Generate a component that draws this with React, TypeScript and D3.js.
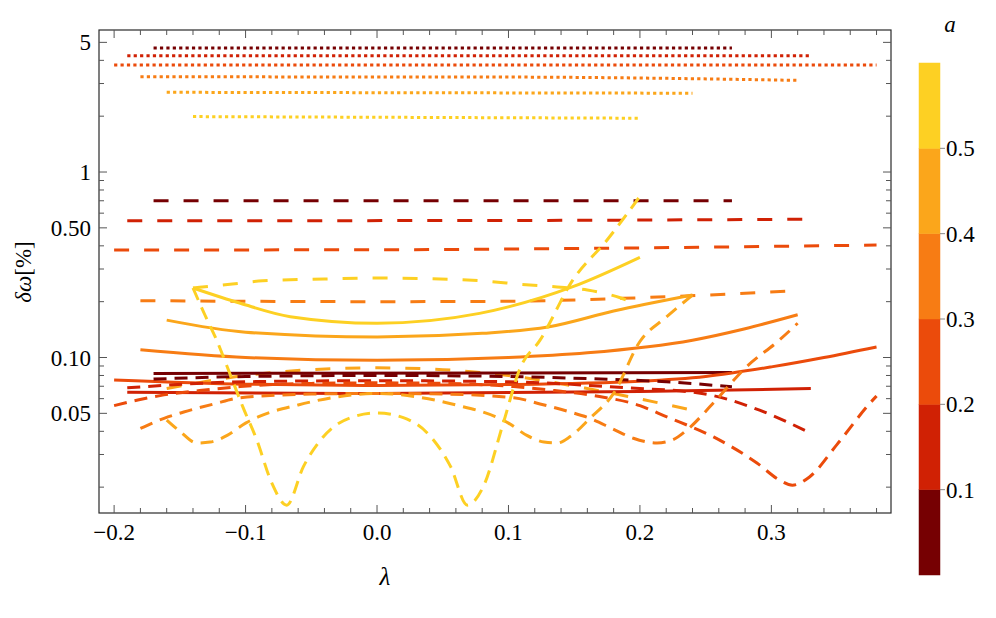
import React, { useEffect, useRef } from 'react';
import * as d3 from 'd3';

// colour groups, one per value of a (bands of the colour bar)
const aBands = [0, 0.1, 0.2, 0.3, 0.4, 0.5, 0.6];
const aColors = ['#760002', '#D02104', '#EB4B0B', '#F77C14', '#FBA61B', '#FDD023'];
const barTicks = [0.1, 0.2, 0.3, 0.4, 0.5];

const xTicks = [-0.2, -0.1, 0, 0.1, 0.2, 0.3];
const xTickLabels = ['\u22120.2', '\u22120.1', '0.0', '0.1', '0.2', '0.3'];
const yTicks = [0.05, 0.1, 0.5, 1, 5];
const yTickLabels = ['0.05', '0.10', '0.50', '1', '5'];

// dotted curves (top), index = colour group
const dottedCurves: [number, number][][] = [
  [[-0.17, 4.66], [0.27, 4.66]],
  [[-0.19, 4.24], [0.33, 4.24]],
  [[-0.2, 3.77], [0.38, 3.77]],
  [[-0.18, 3.26], [0.1, 3.25], [0.32, 3.12]],
  [[-0.16, 2.69], [0.24, 2.66]],
  [[-0.14, 1.99], [0.2, 1.95]],
];

// long-dashed curves
const dashedCurves: [number, number][][] = [
  [[-0.17, 0.7], [0.27, 0.7]],
  [[-0.19, 0.546], [0.1, 0.548], [0.33, 0.557]],
  [[-0.2, 0.38], [0, 0.381], [0.2, 0.39], [0.38, 0.404]],
  [[-0.18, 0.2025], [0, 0.2], [0.1, 0.201], [0.2, 0.21], [0.32, 0.229]],
  [[-0.16, 0.068], [-0.1, 0.08], [-0.05, 0.086], [0, 0.088], [0.05, 0.086], [0.1, 0.08], [0.16, 0.068], [0.24, 0.052]],
  [[-0.14, 0.237], [-0.11, 0.249], [-0.087, 0.259], [-0.04, 0.265], [0, 0.268], [0.04, 0.266], [0.083, 0.258],
   [0.11, 0.248], [0.137, 0.24], [0.16, 0.231], [0.185, 0.21], [0.2, 0.19]],
];

// solid curves
const solidCurves: [number, number][][] = [
  [[-0.17, 0.082], [0.27, 0.083]],
  [[-0.19, 0.065], [0, 0.064], [0.2, 0.0655], [0.33, 0.068]],
  [[-0.2, 0.0757], [-0.1, 0.0718], [0, 0.0707], [0.1, 0.0715], [0.2, 0.0745], [0.25, 0.079], [0.3, 0.089],
   [0.34, 0.1], [0.38, 0.114]],
  [[-0.18, 0.11], [-0.1, 0.1], [0, 0.0965], [0.1, 0.1], [0.16, 0.106], [0.24, 0.124], [0.28, 0.143], [0.32, 0.17]],
  [[-0.16, 0.159], [-0.1, 0.137], [0, 0.129], [0.08, 0.135], [0.13, 0.146], [0.18, 0.178], [0.24, 0.217]],
  [[-0.14, 0.237], [-0.104, 0.196], [-0.066, 0.166], [0, 0.153], [0.078, 0.173], [0.149, 0.241], [0.2, 0.347]],
];

// short-dashed curves with the dips
const dipCurves: [number, number][][] = [
  [[-0.17, 0.0765], [-0.1, 0.079], [0, 0.08], [0.1, 0.079], [0.17, 0.0765], [0.22, 0.074], [0.27, 0.0695]],
  [[-0.19, 0.0686], [-0.1, 0.074], [0, 0.075], [0.1, 0.074], [0.19, 0.0686], [0.246, 0.0642], [0.291, 0.052],
   [0.33, 0.039]],
  [[-0.2, 0.055], [-0.182, 0.059], [-0.165, 0.0623], [-0.135, 0.0663], [-0.104, 0.0697], [-0.05, 0.0725],
   [0, 0.073], [0.05, 0.0725], [0.104, 0.0697], [0.135, 0.0663], [0.165, 0.0623], [0.2, 0.055], [0.22, 0.048],
   [0.256, 0.0373], [0.289, 0.027], [0.306, 0.0219], [0.316, 0.0205], [0.329, 0.0227], [0.35, 0.034],
   [0.376, 0.0578], [0.38, 0.062]],
  [[-0.18, 0.0415], [-0.162, 0.047], [-0.147, 0.0508], [-0.124, 0.0562], [-0.104, 0.0607], [-0.05, 0.0635],
   [0, 0.064], [0.05, 0.0635], [0.104, 0.0607], [0.124, 0.0562], [0.147, 0.0508], [0.162, 0.047], [0.18, 0.041],
   [0.195, 0.0367], [0.213, 0.0346], [0.225, 0.036], [0.236, 0.0408], [0.256, 0.057], [0.281, 0.089],
   [0.306, 0.124], [0.32, 0.153]],
  [[-0.16, 0.046], [-0.15, 0.04], [-0.137, 0.0346], [-0.127, 0.035], [-0.114, 0.038], [-0.1, 0.0443],
   [-0.09, 0.048], [-0.06, 0.0555], [-0.03, 0.0614], [0, 0.064], [0.03, 0.0614], [0.06, 0.0555], [0.09, 0.048],
   [0.1, 0.0443], [0.114, 0.038], [0.127, 0.035], [0.137, 0.0346], [0.147, 0.0375], [0.162, 0.047],
   [0.18, 0.064], [0.2, 0.122], [0.22, 0.165], [0.24, 0.217]],
  [[-0.14, 0.237], [-0.131, 0.17], [-0.122, 0.124], [-0.112, 0.082], [-0.102, 0.054], [-0.0915, 0.036],
   [-0.08, 0.021], [-0.0687, 0.016], [-0.056, 0.0258], [-0.041, 0.0373], [-0.02, 0.0474], [0, 0.0502],
   [0.02, 0.0474], [0.041, 0.0373], [0.056, 0.0258], [0.0687, 0.016], [0.0808, 0.0201], [0.096, 0.0442],
   [0.1087, 0.087], [0.124, 0.124], [0.149, 0.262], [0.175, 0.43], [0.2, 0.74]],
];

const serif = "'Liberation Serif', 'Times New Roman', 'DejaVu Serif', serif";

function App() {
  const svgRef = useRef<SVGSVGElement>(null);

  useEffect(() => {
    const svg = d3.select(svgRef.current);
    svg.selectAll('*').remove();

    const left = 99, right = 891, top = 30, bottom = 513;

    const x = d3.scaleLinear().domain([-0.2115, 0.391]).range([left, right]);
    const y = d3.scaleLog().domain([0.01451, 5.83]).range([bottom, top]);

    const g = svg.append('g').attr('font-family', serif);
    const clip = svg.append('clipPath').attr('id', 'plot-clip');
    clip.append('rect').attr('x', left).attr('y', top).attr('width', right - left).attr('height', bottom - top);

    const line = d3.line<[number, number]>()
      .x(d => x(d[0]))
      .y(d => y(d[1]))
      .curve(d3.curveMonotoneX);

    const curves = g.append('g').attr('clip-path', 'url(#plot-clip)');

    const drawSet = (set: [number, number][][], dash: string | null, cls: string) => {
      curves.selectAll(`.${cls}`)
        .data(set)
        .join('path')
        .attr('class', cls)
        .attr('d', d => line(d))
        .attr('fill', 'none')
        .attr('stroke', (d, i) => aColors[i])
        .attr('stroke-width', 3)
        .attr('stroke-dasharray', dash)
        .attr('stroke-linecap', 'butt');
    };

    drawSet(dottedCurves, '3.2 3.2', 'dotted');
    drawSet(dashedCurves, '15 15', 'dashed');
    drawSet(solidCurves, null, 'solid');
    drawSet(dipCurves, '13 8', 'dip');

    // frame
    g.append('rect')
      .attr('x', left).attr('y', top)
      .attr('width', right - left).attr('height', bottom - top)
      .attr('fill', 'none').attr('stroke', '#2a2a2a').attr('stroke-width', 1.2);

    const tickColor = '#555';
    // x ticks (bottom and top)
    const xMinor = d3.range(-0.2, 0.3801, 0.02).filter(v => !xTicks.some(t => Math.abs(t - v) < 1e-6));
    const xt = g.append('g').attr('stroke', tickColor).attr('stroke-width', 1);
    xTicks.forEach(v => {
      xt.append('line').attr('x1', x(v)).attr('x2', x(v)).attr('y1', bottom).attr('y2', bottom - 8);
      xt.append('line').attr('x1', x(v)).attr('x2', x(v)).attr('y1', top).attr('y2', top + 8);
    });
    xMinor.forEach(v => {
      xt.append('line').attr('x1', x(v)).attr('x2', x(v)).attr('y1', bottom).attr('y2', bottom - 5);
      xt.append('line').attr('x1', x(v)).attr('x2', x(v)).attr('y1', top).attr('y2', top + 5);
    });

    // y ticks (left and right)
    const yMinor: number[] = [];
    [0.01, 0.1, 1].forEach(dec => {
      for (let k = 2; k <= 9; k++) {
        const v = dec * k;
        if (v > 0.0146 && v < 5.8 && !yTicks.some(t => Math.abs(t - v) < 1e-9)) yMinor.push(v);
      }
    });
    const yt = g.append('g').attr('stroke', tickColor).attr('stroke-width', 1);
    yTicks.forEach(v => {
      yt.append('line').attr('x1', left).attr('x2', left + 8).attr('y1', y(v)).attr('y2', y(v));
      yt.append('line').attr('x1', right).attr('x2', right - 8).attr('y1', y(v)).attr('y2', y(v));
    });
    yMinor.forEach(v => {
      yt.append('line').attr('x1', left).attr('x2', left + 5).attr('y1', y(v)).attr('y2', y(v));
      yt.append('line').attr('x1', right).attr('x2', right - 5).attr('y1', y(v)).attr('y2', y(v));
    });

    // tick labels
    g.selectAll('.xlab')
      .data(xTicks)
      .join('text')
      .attr('class', 'xlab')
      .attr('x', d => x(d))
      .attr('y', 540)
      .attr('text-anchor', 'middle')
      .attr('font-size', 23)
      .text((d, i) => xTickLabels[i]);

    g.selectAll('.ylab')
      .data(yTicks)
      .join('text')
      .attr('class', 'ylab')
      .attr('x', 91)
      .attr('y', d => y(d))
      .attr('dy', '0.35em')
      .attr('text-anchor', 'end')
      .attr('font-size', 23)
      .text((d, i) => yTickLabels[i]);

    // axis titles
    g.append('text')
      .attr('x', 385).attr('y', 585)
      .attr('text-anchor', 'middle')
      .attr('font-size', 25)
      .attr('font-style', 'italic')
      .text('\u03bb');

    const yTitle = g.append('text')
      .attr('transform', 'translate(31,272) rotate(-90)')
      .attr('text-anchor', 'middle')
      .attr('font-size', 23);
    yTitle.append('tspan').attr('font-style', 'italic').text('\u03b4\u03c9');
    yTitle.append('tspan').text('[%]');

    // colour bar
    const cb = d3.scaleLinear().domain([0, 0.6]).range([575, 63]);
    const bar = g.append('g');
    bar.selectAll('rect')
      .data(aColors)
      .join('rect')
      .attr('x', 919)
      .attr('width', 21)
      .attr('y', (d, i) => cb(aBands[i + 1]))
      .attr('height', (d, i) => cb(aBands[i]) - cb(aBands[i + 1]))
      .attr('fill', d => d)
      .attr('stroke', d => d)
      .attr('stroke-width', 0.5);

    bar.selectAll('line')
      .data(barTicks)
      .join('line')
      .attr('x1', 940).attr('x2', 945)
      .attr('y1', d => cb(d)).attr('y2', d => cb(d))
      .attr('stroke', '#888').attr('stroke-width', 1);

    bar.selectAll('text.cbl')
      .data(barTicks)
      .join('text')
      .attr('class', 'cbl')
      .attr('x', 946)
      .attr('y', d => cb(d))
      .attr('dy', '0.35em')
      .attr('font-size', 23)
      .text(d => d.toFixed(1));

    bar.append('text')
      .attr('x', 950).attr('y', 32)
      .attr('text-anchor', 'middle')
      .attr('font-size', 23)
      .attr('font-style', 'italic')
      .text('a');
  }, []);

  return (
    <svg
      ref={svgRef}
      width={996}
      height={618}
      style={{ position: 'absolute', left: 0, top: 0, background: '#fff' }}
    />
  );
}

export default App;
